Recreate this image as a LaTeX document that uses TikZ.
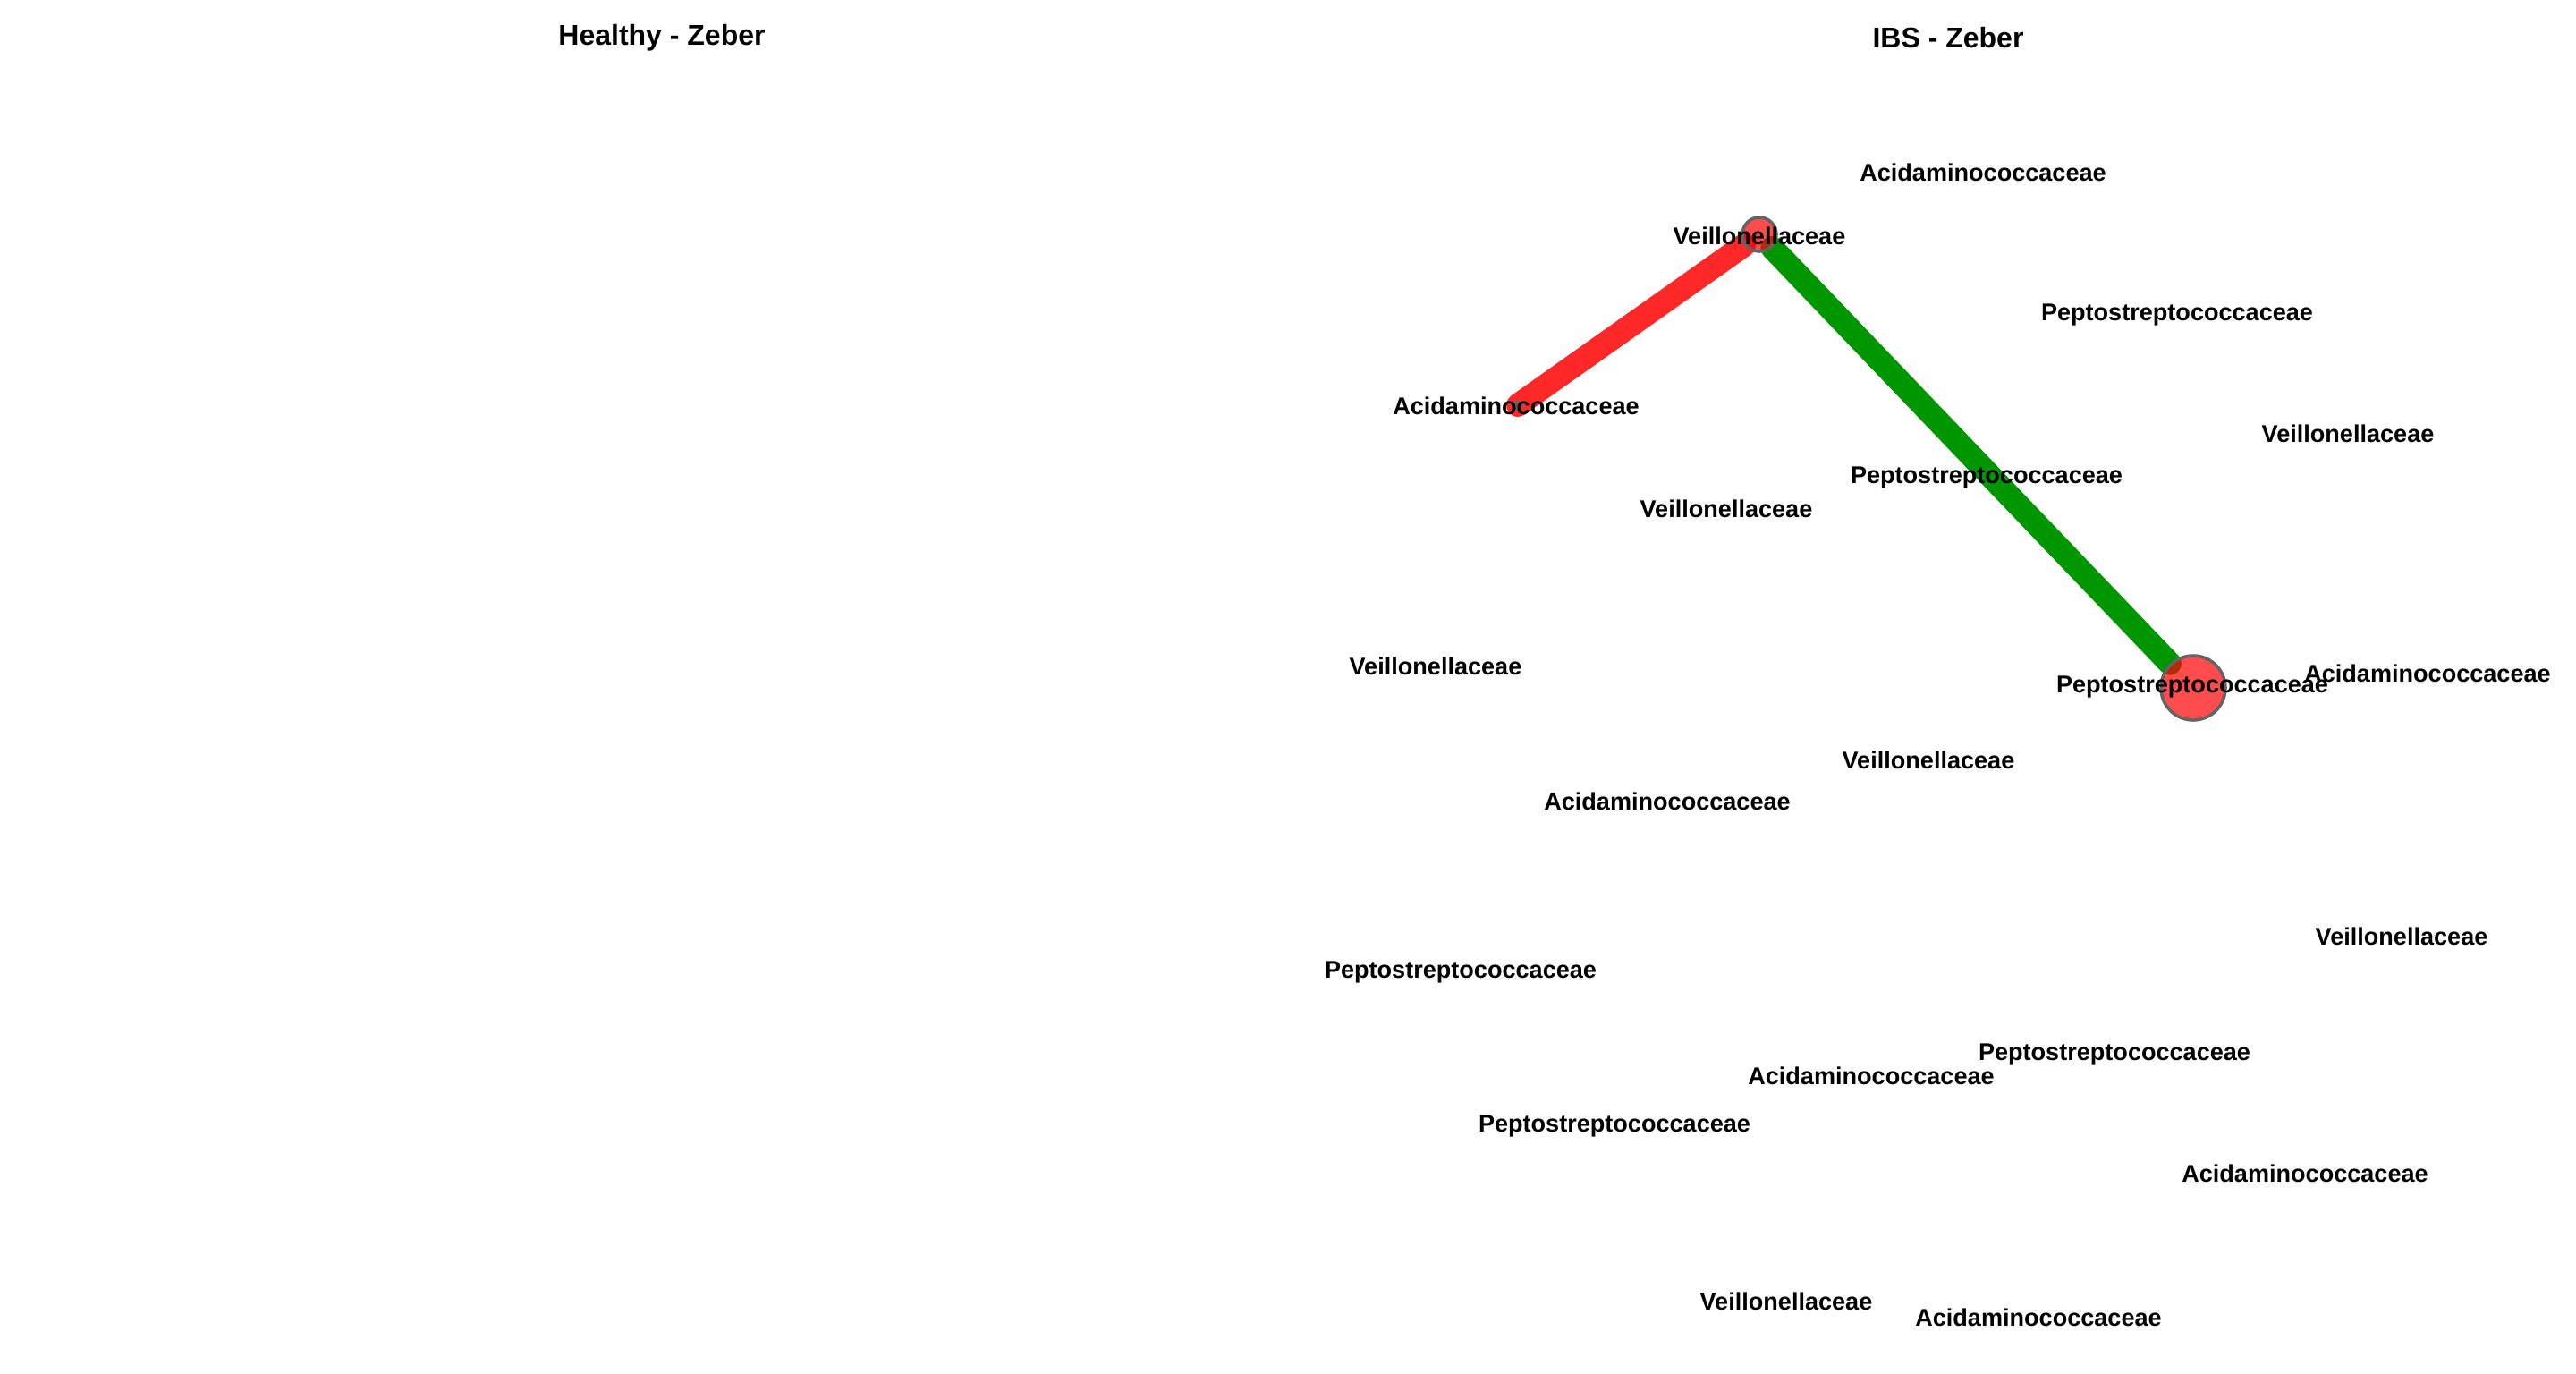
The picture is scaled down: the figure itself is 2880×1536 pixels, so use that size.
\documentclass[tikz,border=0pt]{standalone}
\usepackage{fontspec}
\setmainfont{Liberation Sans}
\definecolor{edgered}{RGB}{255,40,40}
\definecolor{edgegreen}{RGB}{0,150,0}
\definecolor{nodered}{RGB}{255,0,0}
\definecolor{nodeborder}{RGB}{100,100,100}
\pgfdeclarelayer{bg}
\pgfsetlayers{bg,main}
\begin{document}
\begin{tikzpicture}[x=0.01cm,y=-0.01cm,
  lbl/.style={font=\bfseries\fontsize{7.7pt}{9pt}\selectfont,inner sep=0pt,text=black},
  ttl/.style={font=\bfseries\fontsize{9.1pt}{11pt}\selectfont,inner sep=0pt,text=black},
  vtx/.style={circle,fill=nodered,fill opacity=0.7,draw=nodeborder,draw opacity=1,line width=0.035cm,inner sep=0pt},
  edg/.style={line width=0.26cm,line cap=round}]
\useasboundingbox (0,0) rectangle (2880,1536);
% titles
\node[ttl] (t1) at (740,42) {Healthy - Zeber};
\node[ttl] (t2) at (2178,42) {IBS - Zeber};
% vertices
\node[vtx,minimum size=0.38cm] (c2) at (1967,262) {};
\node[vtx,minimum size=0.08cm] (c4) at (1697,453) {};
\node[vtx,minimum size=0.72cm] (c9) at (2452,769) {};
% edges (drawn below vertices)
\begin{pgfonlayer}{bg}
\draw[edg,edgered] (c4.center) -- (c2);
\draw[edg,edgegreen] (c2) -- (c9);
\end{pgfonlayer}
% labels
\node[lbl] (n1) at (2217,193) {Acidaminococcaceae};
\node[lbl] (n2) at (1967,264) {Veillonellaceae};
\node[lbl] (n3) at (2434,352) {Peptostreptococcaceae};
\node[lbl] (n4) at (1695,454) {Acidaminococcaceae};
\node[lbl] (n5) at (2625,485) {Veillonellaceae};
\node[lbl] (n6) at (2221,534) {Peptostreptococcaceae};
\node[lbl] (n7) at (1930,569) {Veillonellaceae};
\node[lbl] (n8) at (1605,745) {Veillonellaceae};
\node[lbl] (n9) at (2451,768) {Peptostreptococcaceae};
\node[lbl] (n10) at (2714,753) {Acidaminococcaceae};
\node[lbl] (n11) at (2156,850) {Veillonellaceae};
\node[lbl] (n12) at (1864,896) {Acidaminococcaceae};
\node[lbl] (n13) at (2685,1047) {Veillonellaceae};
\node[lbl] (n14) at (1633,1087) {Peptostreptococcaceae};
\node[lbl] (n15) at (2364,1179) {Peptostreptococcaceae};
\node[lbl] (n16) at (2092,1203) {Acidaminococcaceae};
\node[lbl] (n17) at (1805,1259) {Peptostreptococcaceae};
\node[lbl] (n18) at (2577,1312) {Acidaminococcaceae};
\node[lbl] (n19) at (1997,1455) {Veillonellaceae};
\node[lbl] (n20) at (2279,1473) {Acidaminococcaceae};
\end{tikzpicture}
\end{document}
